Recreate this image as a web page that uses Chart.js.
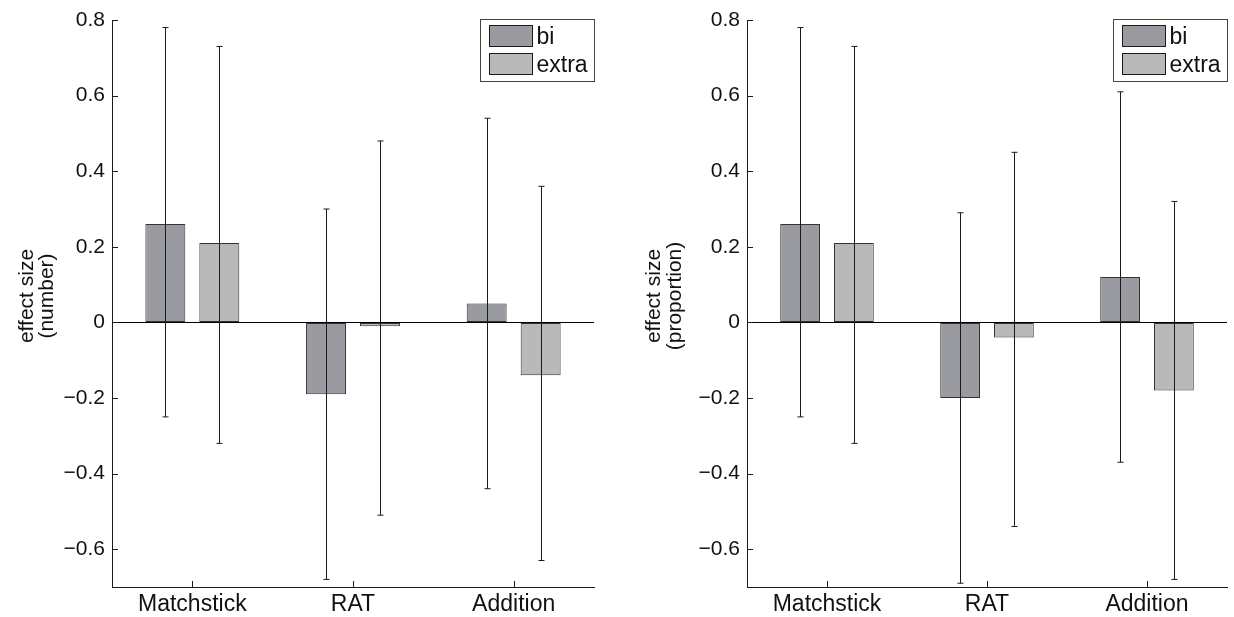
<!DOCTYPE html>
<html>
<head>
<meta charset="utf-8">
<script src="https://cdn.jsdelivr.net/npm/chart.js@4.4.1/dist/chart.umd.min.js"></script>
<style>
  html, body { margin: 0; padding: 0; background: #fff; }
  #wrap { position: relative; width: 1234px; height: 617px; overflow: hidden; }
  .panel { position: absolute; top: 0; width: 617px; height: 617px; }
</style>
</head>
<body>
<div id="wrap">
  <div class="panel" style="left:0"><canvas id="left" width="617" height="617"></canvas></div>
  <div class="panel" style="left:617px"><canvas id="right" width="617" height="617"></canvas></div>
</div>
<script>
const categories = ["Matchstick", "RAT", "Addition"];
const seriesNames = ["bi", "extra"];
const yTickValues = [0.8, 0.6, 0.4, 0.2, 0, -0.2, -0.4, -0.6];
const yTickLabels = ["0.8", "0.6", "0.4", "0.2", "0", "\u22120.2", "\u22120.4", "\u22120.6"];

// effect size (number)
const numBi = [0.26, -0.19, 0.05];
const numBiLo = [-0.25, -0.68, -0.44];
const numBiHi = [0.78, 0.30, 0.54];
const numExtra = [0.21, -0.01, -0.14];
const numExtraLo = [-0.32, -0.51, -0.63];
const numExtraHi = [0.73, 0.48, 0.36];

// effect size (proportion)
const propBi = [0.26, -0.20, 0.12];
const propBiLo = [-0.25, -0.69, -0.37];
const propBiHi = [0.78, 0.29, 0.61];
const propExtra = [0.21, -0.04, -0.18];
const propExtraLo = [-0.32, -0.54, -0.68];
const propExtraHi = [0.73, 0.45, 0.32];

const BI_COLOR = "#9a9ba0";
const EXTRA_COLOR = "#b9b9b9";
const INK = "#1a1a1a";
const FONT = "'Liberation Sans', Arial, sans-serif";

Chart.defaults.font.family = FONT;
Chart.defaults.color = "#111";

// error bars over the bars, inner tick marks, y title and a boxed legend
const decorPlugin = {
  id: "decor",
  afterDatasetsDraw(chart) {
    const ctx = chart.ctx;
    const y = chart.scales.y;
    const errs = chart.options.plugins.decor.errors;
    ctx.save();
    ctx.strokeStyle = INK;
    ctx.lineWidth = 1;
    chart.data.datasets.forEach((ds, i) => {
      const meta = chart.getDatasetMeta(i);
      meta.data.forEach((bar, j) => {
        const x = Math.round(bar.x) + 0.5;
        const yLo = y.getPixelForValue(errs[i].lo[j]);
        const yHi = y.getPixelForValue(errs[i].hi[j]);
        ctx.beginPath();
        ctx.moveTo(x, yHi);
        ctx.lineTo(x, yLo);
        ctx.moveTo(x - 3, yHi);
        ctx.lineTo(x + 3, yHi);
        ctx.moveTo(x - 3, yLo);
        ctx.lineTo(x + 3, yLo);
        ctx.stroke();
      });
    });
    ctx.restore();
  },
  afterDraw(chart) {
    const ctx = chart.ctx;
    const area = chart.chartArea;
    const xs = chart.scales.x;
    const ys = chart.scales.y;
    const opts = chart.options.plugins.decor;
    ctx.save();
    ctx.strokeStyle = INK;
    ctx.lineWidth = 1;
    ctx.beginPath();
    ys.ticks.forEach((t) => {
      const py = Math.round(ys.getPixelForValue(t.value)) + 0.5;
      ctx.moveTo(area.left, py);
      ctx.lineTo(area.left + 6, py);
    });
    categories.forEach((c, i) => {
      const px = Math.round(xs.getPixelForValue(i)) + 0.5;
      ctx.moveTo(px, area.bottom);
      ctx.lineTo(px, area.bottom - 6);
    });
    ctx.stroke();

    // y axis title, two lines, rotated
    ctx.fillStyle = "#111";
    ctx.font = "21px " + FONT;
    ctx.textAlign = "center";
    ctx.textBaseline = "middle";
    opts.title.forEach((line, k) => {
      ctx.save();
      ctx.translate(opts.titleX[k], 296);
      ctx.rotate(-Math.PI / 2);
      ctx.fillText(line, 0, 0);
      ctx.restore();
    });

    // legend
    const w = 114, h = 62;
    const lx = Math.round(area.right - w) + 0.5;
    const ly = 19.5;
    ctx.fillStyle = "#fff";
    ctx.fillRect(lx, ly, w, h);
    ctx.strokeStyle = "#444";
    ctx.strokeRect(lx, ly, w, h);
    ctx.font = "23px " + FONT;
    ctx.textBaseline = "middle";
    ctx.textAlign = "left";
    chart.data.datasets.forEach((ds, i) => {
      const sy = ly + 6 + i * 28;
      ctx.fillStyle = ds.backgroundColor;
      ctx.fillRect(lx + 9, sy, 43, 21);
      ctx.strokeStyle = INK;
      ctx.strokeRect(lx + 9, sy, 43, 21);
      ctx.fillStyle = "#111";
      ctx.fillText(ds.label, lx + 56, sy + 12);
    });
    ctx.restore();
  }
};

function makeChart(id, title, titleX, bi, biLo, biHi, extra, extraLo, extraHi, yWidth, padRight) {
  return new Chart(document.getElementById(id), {
    type: "bar",
    data: {
      labels: categories,
      datasets: [
        {
          label: seriesNames[0],
          data: bi,
          backgroundColor: BI_COLOR,
          borderColor: "#333",
          borderWidth: 1,
          borderSkipped: false
        },
        {
          label: seriesNames[1],
          data: extra,
          backgroundColor: EXTRA_COLOR,
          borderColor: "#333",
          borderWidth: 1,
          borderSkipped: false
        }
      ]
    },
    options: {
      responsive: false,
      animation: false,
      devicePixelRatio: 1,
      categoryPercentage: 0.672,
      barPercentage: 0.74,
      layout: { padding: { top: 20, right: padRight, bottom: 0, left: 0 } },
      plugins: {
        legend: { display: false },
        tooltip: { enabled: false },
        decor: {
          title: title,
          titleX: titleX,
          errors: [
            { lo: biLo, hi: biHi },
            { lo: extraLo, hi: extraHi }
          ]
        }
      },
      scales: {
        x: {
          grid: { display: false, drawTicks: false },
          border: { display: true, color: INK, width: 1 },
          ticks: { padding: 4, font: { size: 23 }, color: "#111" },
          afterFit(scale) {
            scale.height = 30;
          }
        },
        y: {
          min: -0.7,
          max: 0.8,
          afterBuildTicks(scale) {
            scale.ticks = yTickValues.map((v) => ({ value: v }));
          },
          ticks: {
            padding: 7,
            font: { size: 21 },
            color: "#111",
            callback(value) {
              const k = yTickValues.findIndex((v) => Math.abs(v - value) < 1e-9);
              return k >= 0 ? yTickLabels[k] : "";
            }
          },
          grid: {
            drawTicks: false,
            color(ctx) {
              return ctx.tick && Math.abs(ctx.tick.value) < 1e-9 ? "#000" : "rgba(0,0,0,0)";
            }
          },
          border: { display: true, color: INK, width: 1 },
          afterFit(scale) {
            scale.width = yWidth;
          }
        }
      }
    },
    plugins: [decorPlugin]
  });
}

makeChart("left", ["effect size", "(number)"], [27, 47], numBi, numBiLo, numBiHi,
  numExtra, numExtraLo, numExtraHi, 112, 23);
makeChart("right", ["effect size", "(proportion)"], [37, 58], propBi, propBiLo, propBiHi,
  propExtra, propExtraLo, propExtraHi, 130, 7);
</script>
</body>
</html>
